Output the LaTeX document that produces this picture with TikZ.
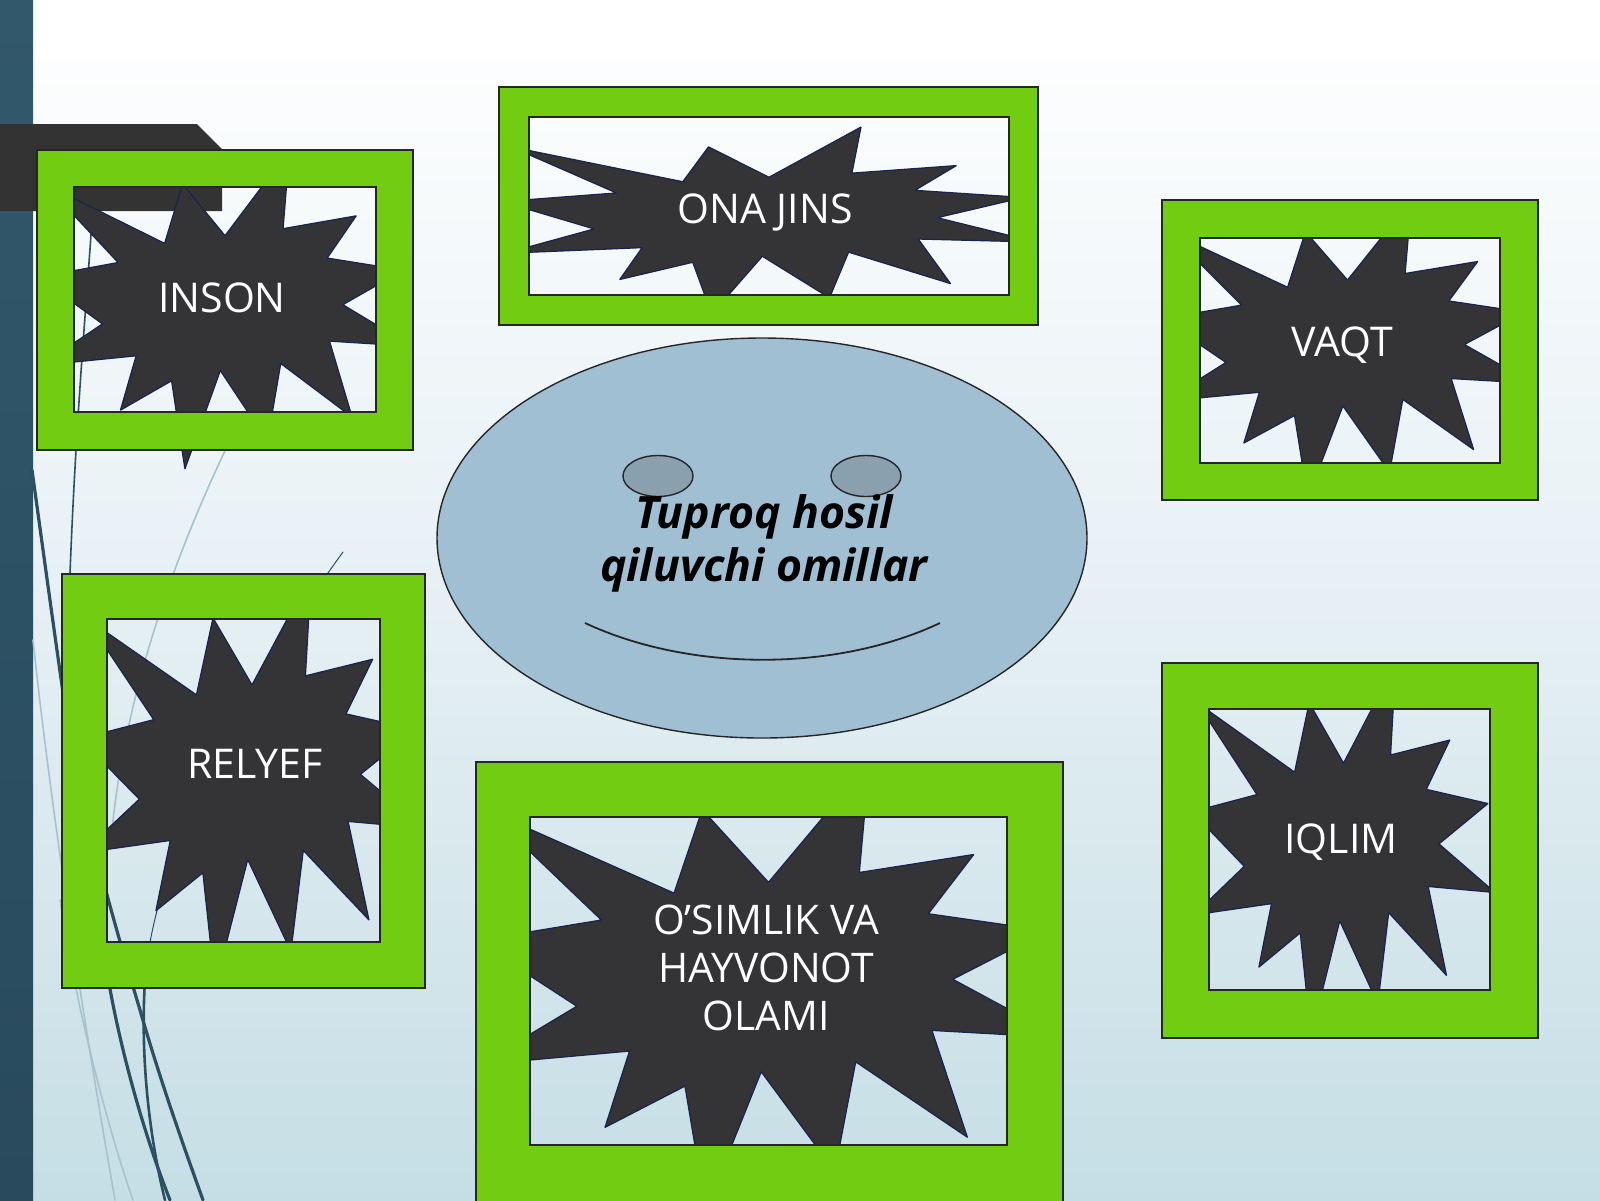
\documentclass[tikz,border=0pt]{standalone}
\usepackage{fontspec}
\setmainfont{Open Sans}
\usetikzlibrary{shapes.geometric}
\definecolor{frgreen}{RGB}{114,204,18}
\definecolor{stardark}{RGB}{52,52,54}
\definecolor{starline}{RGB}{25,35,80}
\definecolor{bartop}{RGB}{50,88,108}
\definecolor{barbot}{RGB}{40,74,92}
\definecolor{bgbot}{RGB}{197,222,229}
\definecolor{bgmid}{RGB}{230,240,244}
\definecolor{facefill}{RGB}{160,191,211}
\definecolor{eyefill}{RGB}{139,160,174}
\definecolor{wisp}{RGB}{44,80,98}
\definecolor{wispfaint}{RGB}{168,194,205}
\definecolor{tabdark}{RGB}{51,51,51}
\tikzset{
  starfill/.style={fill=stardark, draw=starline, line width=0.6pt, line join=bevel},
  frameband/.style={fill=frgreen, even odd rule},
  frameline/.style={draw=black!85, line width=1pt},
  lbl/.style={text=white, font=\fontsize{20.5}{24}\selectfont, inner sep=0pt, anchor=base},
  wispline/.style={draw=wisp, line cap=round},
  faintline/.style={draw=wispfaint, line width=0.8pt, line cap=round},
}
% irregular seal (explosion) in a box: x0, y0, width, height
\newcommand\drawseal[4]{%
  \begin{scope}[shift={(#1,#2)}, xscale={#3/216}, yscale={#4/216}]
    \path[starfill] (108,58) -- (145.22,0) -- (141.55,53.25) -- (183.80,44.57)
      -- (167.02,73.15) -- (210.97,81.37) -- (176.07,104.75) -- (216,132.90)
      -- (168.37,129.42) -- (181.45,180.95) -- (140.20,144.57) -- (132.47,197.37)
      -- (105.32,149.35) -- (84.85,216) -- (77.15,156.27) -- (47.62,176.17)
      -- (56.67,139.37) -- (1.35,145.87) -- (37.22,117.75) -- (0,86.15)
      -- (46.27,76.17) -- (3.70,22.95) -- (73.12,63.20) -- (83.52,22.95) -- cycle;
  \end{scope}}
% green frame: outer x0 y0 x1 y1, inner x0 y0 x1 y1
\newcommand\drawframe[8]{%
  \fill[frameband] (#1,#2) rectangle (#3,#4) (#5,#6) rectangle (#7,#8);
  \draw[frameline] (#1,#2) rectangle (#3,#4);
  \draw[frameline] (#5,#6) rectangle (#7,#8);}
\begin{document}
\begin{tikzpicture}[x=0.5pt,y=-0.5pt]
\clip (0,0) rectangle (1600,1200);
\useasboundingbox (0,0) rectangle (1600,1200);
% background
\shade[top color=white, bottom color=bgbot, middle color=bgmid] (0,0) rectangle (1600,1200);
\fill[white] (0,0) rectangle (1600,60);
% left bar
\shade[top color=bartop, bottom color=barbot] (0,0) rectangle (33,1200);
% decorative wisp lines
\draw[faintline] (240,420) .. controls (170,560) and (125,700) .. (112,830);
\draw[faintline] (60,900) .. controls (75,1000) and (105,1120) .. (133,1200);
\draw[faintline] (33,640) .. controls (50,800) and (80,1000) .. (115,1200);
\draw[wispline, line width=0.8pt] (93,205) .. controls (85,330) and (72,450) .. (66,700);
\draw[wispline, line width=1.6pt] (32,470) .. controls (50,600) and (85,860) .. (110,989)
   .. controls (125,1070) and (150,1150) .. (170,1200);
\draw[wispline, line width=1.6pt] (90,830) .. controls (105,890) and (125,960) .. (140,1010)
   .. controls (160,1080) and (185,1150) .. (203,1200);
\draw[wispline, line width=0.5pt] (343,552) .. controls (250,680) and (155,850) .. (145,980);
\draw[wispline, line width=1.3pt] (145,980) .. controls (140,1060) and (150,1140) .. (165,1200);
% dark tab
\fill[tabdark] (0,124) -- (197,124) -- (222,149) -- (222,211) -- (0,211) -- cycle;
% face
\node[draw=black!85, line width=0.7pt, fill=facefill, ellipse, minimum width=325pt, minimum height=200pt, inner sep=0pt] (face) at (762,538) {};
\node[draw=black!85, line width=0.7pt, fill=eyefill, ellipse, minimum width=35pt, minimum height=20.5pt, inner sep=0pt] (eyeL) at (658,476) {};
\node[draw=black!85, line width=0.7pt, fill=eyefill, ellipse, minimum width=35pt, minimum height=20.5pt, inner sep=0pt] (eyeR) at (866,476) {};
\draw[line width=0.9pt, draw=black!85] (585,623) .. controls (690,672) and (836,672) .. (940,623);
\node[align=center, inner sep=0pt, font=\fontsize{22.3}{26.5}\selectfont\bfseries\itshape] (title) at (764,543) {Tuproq hosil\\qiluvchi omillar};
% stars
\drawseal{38}{150}{374}{319}
\drawseal{502}{127}{534}{187}
\drawseal{1162}{200}{371}{298}
\drawseal{80}{574}{344}{413}
\drawseal{476}{762}{585}{448}
\drawseal{1192}{663}{303}{373}
% frames
\drawframe{37}{150}{413}{450}{74}{187}{376}{412}
\drawframe{499}{87}{1038}{325}{529}{117}{1009}{295}
\drawframe{1162}{200}{1538}{500}{1200}{238}{1500}{463}
\drawframe{62}{574}{425}{988}{107}{619}{380}{942}
\drawframe{476}{762}{1063}{1215}{530}{817}{1007}{1145}
\drawframe{1162}{663}{1538}{1038}{1209}{709}{1490}{990}
% labels
\node[lbl] (inson) at (222,312) {INSON};
\node[lbl] (onajins) at (765,223) {ONA JINS};
\node[lbl] (vaqt) at (1342,356) {VAQT};
\node[lbl] (relyef) at (255,778) {RELYEF};
\node[lbl] (iqlim) at (1341,853) {IQLIM};
\node[text=white, align=center, inner sep=0pt, font=\fontsize{20.4}{24}\selectfont] (osimlik) at (766,968) {O’SIMLIK VA\\HAYVONOT\\OLAMI};
\end{tikzpicture}
\end{document}
